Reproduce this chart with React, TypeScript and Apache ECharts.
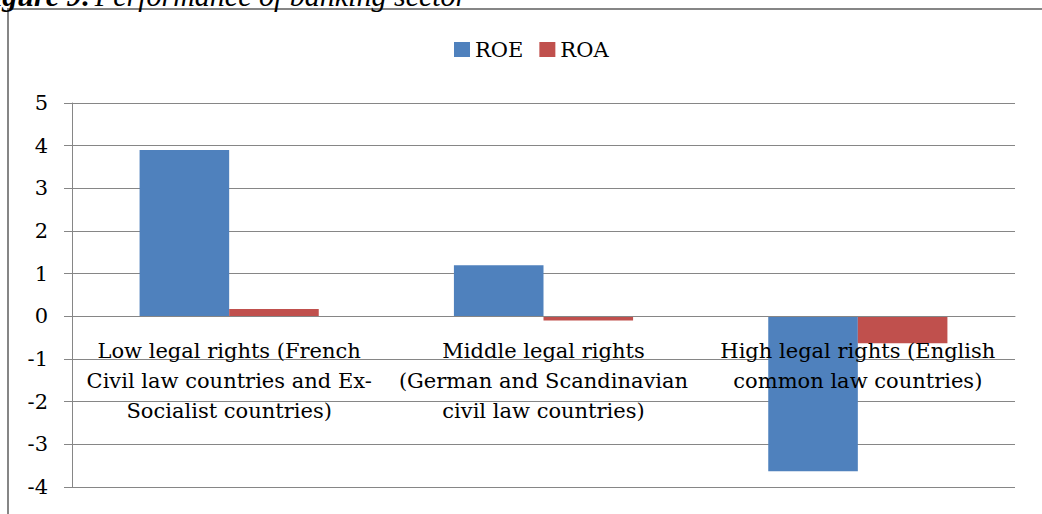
import React, { useEffect, useRef } from "react";
import * as echarts from "echarts";

const categories = [
  "Low legal rights (French\nCivil law countries and Ex-\nSocialist countries)",
  "Middle legal rights\n(German and Scandinavian\ncivil law countries)",
  "High legal rights (English\ncommon law countries)",
];
const roe = [3.9, 1.2, -3.63];
const roa = [0.17, -0.1, -0.63];
const yMin = -4;
const yMax = 5;
const yInterval = 1;

const GRAY = "#868686";
const FONT = "DejaVu Serif";

const GRID_TOP = 103;
const GRID_BOTTOM = 27;
const CHART_H = 514;

export default function App() {
  const ref = useRef<HTMLDivElement>(null);
  useEffect(() => {
    if (!ref.current) return;
    const chart = echarts.init(ref.current, undefined, { renderer: "svg" });
    const plotH = CHART_H - GRID_TOP - GRID_BOTTOM;
    const zeroOffset = -((0 - yMin) / (yMax - yMin)) * plotH;
    chart.setOption({
      animation: false,
      backgroundColor: "#ffffff",
      graphic: [
        {
          type: "rect",
          shape: { x: 8, y: 9, width: 1200, height: 700 },
          style: { fill: "none", stroke: GRAY, lineWidth: 2 },
          silent: true,
          z: -10,
        },
        {
          type: "text",
          x: -26,
          y: 10,
          style: {
            text: "{b|Figure 9:} {i|Performance of banking sector}",
            verticalAlign: "bottom",
            rich: {
              b: { fontFamily: "Liberation Serif", fontSize: 30, fontWeight: "bold", fontStyle: "italic", fill: "#000" },
              i: { fontFamily: "Liberation Serif", fontSize: 30, fontStyle: "italic", fill: "#000" },
            },
          },
        },
      ],
      legend: {
        data: ["ROE", "ROA"],
        left: 449,
        top: 34,
        icon: "rect",
        itemWidth: 16,
        itemHeight: 15,
        itemGap: 16,
        textStyle: { fontFamily: FONT, fontSize: 21, color: "#000" },
      },
      grid: {
        left: 72,
        right: 27,
        top: GRID_TOP,
        bottom: GRID_BOTTOM,
        containLabel: false,
        outerBoundsMode: "none",
      },
      xAxis: {
        type: "category",
        data: categories,
        z: 10,
        offset: zeroOffset,
        axisLine: { show: true, onZero: false, lineStyle: { color: GRAY, width: 1 } },
        axisTick: { show: false },
        axisLabel: {
          margin: 20,
          fontFamily: FONT,
          fontSize: 21,
          lineHeight: 30,
          color: "#000",
          interval: 0,
          align: "center",
        },
      },
      yAxis: {
        type: "value",
        min: yMin,
        max: yMax,
        interval: yInterval,
        axisLine: { show: true, lineStyle: { color: GRAY, width: 1 } },
        axisTick: { show: true, length: 8, lineStyle: { color: GRAY } },
        splitLine: { show: true, lineStyle: { color: GRAY, width: 1 } },
        axisLabel: {
          margin: 24,
          fontFamily: FONT,
          fontSize: 21,
          color: "#000",
          padding: [8, 0, 0, 0],
        },
      },
      series: [
        {
          name: "ROE",
          type: "bar",
          data: roe,
          barGap: "0%",
          barCategoryGap: "43%",
          itemStyle: { color: "#4F81BD" },
        },
        {
          name: "ROA",
          type: "bar",
          data: roa,
          barGap: "0%",
          barCategoryGap: "43%",
          itemStyle: { color: "#C0504D" },
        },
      ],
    });
    return () => chart.dispose();
  }, []);
  return (
    <div
      ref={ref}
      style={{ position: "fixed", left: 0, top: 0, width: 1042, height: 514 }}
    />
  );
}
